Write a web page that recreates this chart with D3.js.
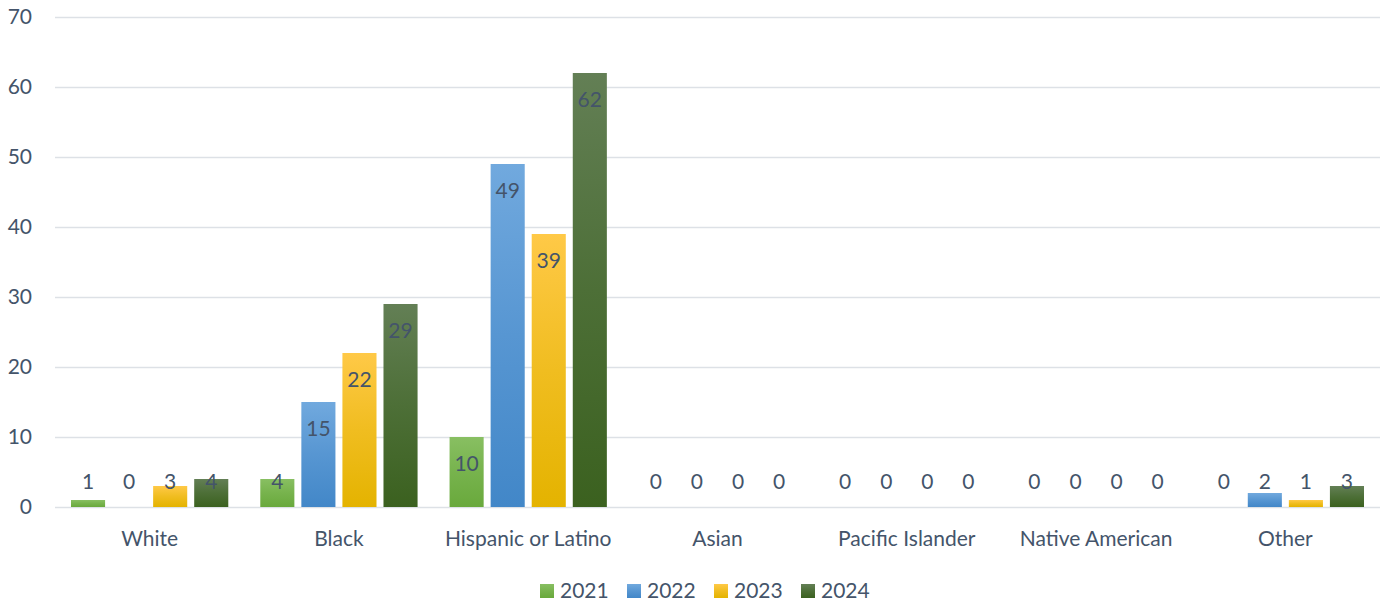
<!DOCTYPE html>
<html>
<head>
<meta charset="utf-8">
<script src="https://cdn.jsdelivr.net/npm/d3@7"></script>
<style>
  body { margin: 0; background: #fff; }
  text { font-family: Lato, "Open Sans", sans-serif; fill: #44546a; }
</style>
</head>
<body>
<svg id="chart" width="1384" height="606"></svg>
<script>
// categories and series
const categories = ["White", "Black", "Hispanic or Latino", "Asian", "Pacific Islander", "Native American", "Other"];
const years = ["2021", "2022", "2023", "2024"];
const v2021 = [1, 4, 10, 0, 0, 0, 0];
const v2022 = [0, 15, 49, 0, 0, 0, 2];
const v2023 = [3, 22, 39, 0, 0, 0, 1];
const v2024 = [4, 29, 62, 0, 0, 0, 3];
const yTicks = [0, 10, 20, 30, 40, 50, 60, 70];

const series = [v2021, v2022, v2023, v2024];
// gradient top / bottom per year
const colors = [
  ["#88bf62", "#69a93c"],
  ["#71a9de", "#4287c8"],
  ["#ffc947", "#e4b300"],
  ["#637f55", "#3b611f"]
];

const svg = d3.select("#chart");
const margin = { left: 55, right: 4, top: 17, bottom: 99 };
const W = 1384, H = 606;
const fs = "21px";

const x0 = d3.scaleBand().domain(categories).range([margin.left, W - margin.right]).paddingInner(0).paddingOuter(0);
const x1 = d3.scaleBand().domain(years).range([16, x0.bandwidth() - 16]).paddingInner(0.17);
const y = d3.scaleLinear().domain([0, 70]).range([H - margin.bottom, margin.top]);

// gradients
const defs = svg.append("defs");
years.forEach((yr, i) => {
  const g = defs.append("linearGradient").attr("id", "g" + yr)
    .attr("x1", 0).attr("y1", 0).attr("x2", 0).attr("y2", 1);
  g.append("stop").attr("offset", "0%").attr("stop-color", colors[i][0]);
  g.append("stop").attr("offset", "50%").attr("stop-color", d3.interpolateRgb(colors[i][0], colors[i][1])(0.55));
  g.append("stop").attr("offset", "100%").attr("stop-color", colors[i][1]);
});

// gridlines
svg.append("g").selectAll("line").data(yTicks).join("line")
  .attr("x1", margin.left).attr("x2", W - margin.right)
  .attr("y1", d => y(d) + 0.5).attr("y2", d => y(d) + 0.5)
  .attr("stroke", "#dde1e6").attr("stroke-width", 1.5);

// y labels
svg.append("g").selectAll("text").data(yTicks).join("text")
  .attr("x", 32).attr("y", d => y(d)).attr("dy", "0.35em")
  .attr("text-anchor", "end").style("font-size", fs)
  .text(d => d);

// bars
const groups = svg.append("g").selectAll("g").data(categories).join("g")
  .attr("transform", d => `translate(${x0(d)},0)`);

groups.each(function(cat, ci) {
  const g = d3.select(this);
  years.forEach((yr, si) => {
    const v = series[si][ci];
    if (v > 0) {
      g.append("rect")
        .attr("x", x1(yr)).attr("width", x1.bandwidth())
        .attr("y", y(v)).attr("height", y(0) - y(v))
        .attr("fill", `url(#g${yr})`);
    }
    g.append("text")
      .attr("x", x1(yr) + x1.bandwidth() / 2)
      .attr("y", Math.min(y(v) + 27, y(0) - 25))
      .attr("dy", "0.35em").attr("text-anchor", "middle")
      .style("font-size", fs)
      .text(v);
  });
});

// category labels
svg.append("g").selectAll("text").data(categories).join("text")
  .attr("x", d => x0(d) + x0.bandwidth() / 2).attr("y", 539)
  .attr("dy", "0.35em").attr("text-anchor", "middle")
  .style("font-size", fs)
  .text(d => d);

// legend
const legend = svg.append("g").selectAll("g").data(years).join("g")
  .attr("transform", (d, i) => `translate(${540 + i * 87},591)`);
legend.append("rect").attr("x", 0).attr("y", -7).attr("width", 14).attr("height", 14)
  .attr("fill", d => `url(#g${d})`);
legend.append("text").attr("x", 20).attr("y", 0).attr("dy", "0.35em")
  .style("font-size", fs).text(d => d);
</script>
</body>
</html>
